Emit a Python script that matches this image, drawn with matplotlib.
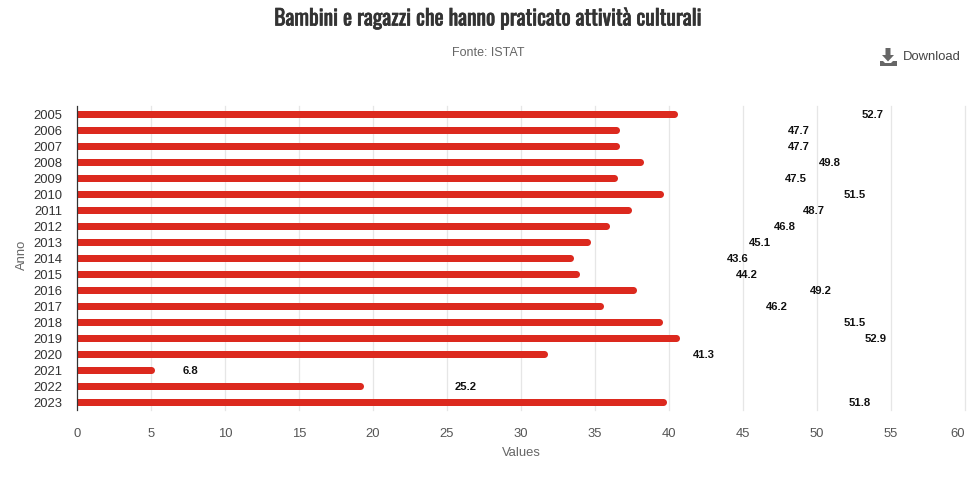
#!/usr/bin/env python
import matplotlib
matplotlib.use('Agg')
import matplotlib.pyplot as plt
import matplotlib.patheffects as pe
from matplotlib.patches import Polygon
from matplotlib.transforms import ScaledTranslation

years = ['2005', '2006', '2007', '2008', '2009', '2010', '2011', '2012', '2013', '2014',
         '2015', '2016', '2017', '2018', '2019', '2020', '2021', '2022', '2023']
# Drawn bar lengths (shorter than the printed labels in the picture)
bar_ends = [40.55, 36.67, 36.67, 38.3, 36.53, 39.6, 37.46, 36.0, 34.7, 33.55,
            33.95, 37.8, 35.55, 39.57, 40.7, 31.8, 5.24, 19.38, 39.85]
# Printed labels
values = [52.7, 47.7, 47.7, 49.8, 47.5, 51.5, 48.7, 46.8, 45.1, 43.6,
          44.2, 49.2, 46.2, 51.5, 52.9, 41.3, 6.8, 25.2, 51.8]
x_ticks = [0, 5, 10, 15, 20, 25, 30, 35, 40, 45, 50, 55, 60]

W, H = 976, 500
PX = 72 / 100  # one pixel in points
RED = '#dc291e'

plt.rcParams['font.family'] = ['Liberation Sans', 'DejaVu Sans']

fig = plt.figure(figsize=(W / 100, H / 100), dpi=100)
ax = fig.add_axes([77 / W, 1 - 410 / H, 888 / W, 304 / H])

ypos = list(range(len(years)))
ax.set_xlim(0, 60)
ax.set_ylim(len(years) - 0.5, -0.5)

# Bars with a round end: a butt line plus a round marker
cap = 3.5 / 14.8
ax.hlines(ypos, 0, [b - cap for b in bar_ends], color=RED, lw=7 * PX, zorder=2)
ax.plot([b - cap for b in bar_ends], ypos, 'o', color=RED, ms=7 * PX, mew=0, zorder=2)

for v, y in zip(values, ypos):
    ax.annotate('%.1f' % v, (v, y), xytext=(4.7 * PX, -0.8 * PX), textcoords='offset points',
                ha='left', va='center', fontsize=11.3 * PX, fontweight='bold', color='#111111')

# Axes
ax.set_xticks(x_ticks)
ax.set_yticks(ypos)
ax.set_yticklabels(years)
ax.grid(axis='x', color='#e6e6e6', lw=1.3 * PX, zorder=0)
ax.set_axisbelow(True)
for gl in ax.get_xgridlines():
    gl.set_clip_on(False)
for s in ['top', 'right', 'bottom']:
    ax.spines[s].set_visible(False)
ax.spines['left'].set_color('#333333')
ax.spines['left'].set_linewidth(1.2 * PX)
ax.spines['left'].set_zorder(5)
ax.tick_params(axis='y', length=0, pad=15 * PX, labelsize=13 * PX, labelcolor='#333333')
ax.tick_params(axis='x', length=0, pad=18 * PX, labelsize=13 * PX, labelcolor='#555555')
ax.get_xticklabels()[-1].set_ha('right')
# y labels sit a little lower
down = ScaledTranslation(0, -0.6 / 100, fig.dpi_scale_trans)
for lab in ax.get_yticklabels():
    lab.set_transform(lab.get_transform() + down)

# Text placed in figure pixels
def figtext(x, y, s, **kw):
    return fig.text(x / W, 1 - y / H, s, **kw)

# Oswald only comes in regular here, the stroke thickens it
title = figtext(488, 18.5, 'Bambini e ragazzi che hanno praticato attività culturali',
                family=['Oswald', 'Roboto Condensed', 'Liberation Sans'], fontweight='bold',
                fontsize=21.6 * PX, color='#333333', ha='center', va='center')
title.set_path_effects([pe.withStroke(linewidth=0.5, foreground='#333333')])
figtext(488, 53.5, 'Fonte: ISTAT', fontsize=12.5 * PX, color='#666666', ha='center', va='center')
figtext(903, 57, 'Download', fontsize=13 * PX, color='#444444', ha='left', va='center')
figtext(521, 453.5, 'Values', fontsize=13 * PX, color='#666666', ha='center', va='center')
figtext(22, 255, 'Anno', fontsize=13 * PX, color='#666666', ha='center', va='center', rotation=90)

# Download icon
def icon(pts):
    fig.patches.append(Polygon([(x / W, 1 - y / H) for x, y in pts], closed=True,
                               transform=fig.transFigure, facecolor='#666666', edgecolor='none'))

icon([(885.5, 48), (890.5, 48), (890.5, 55), (894, 55), (888, 61.5), (882, 55), (885.5, 55)])
icon([(880, 61), (883, 61), (885, 63), (891, 63), (893, 61), (897, 61), (897, 66), (880, 66)])

plt.savefig('out.png', dpi=100)
